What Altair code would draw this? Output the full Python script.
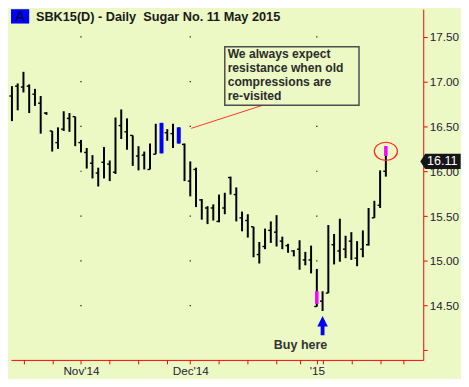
import altair as alt
import pandas as pd

# ---------------- data ----------------
# trading-day index of each daily bar (late Oct 2014 -> late Jan 2015)
bar_idx = list(range(66))
high = [16.95, 16.98, 17.11, 16.97, 16.92, 16.84, 16.66, 16.45, 16.49, 16.67,
        16.65, 16.61, 16.35, 16.26, 16.18, 16.04, 16.27, 16.12, 16.60, 16.69,
        16.59, 16.40, 16.28, 16.22, 16.31, 16.53, 16.54, 16.47, 16.53, 16.49,
        16.31, 16.11, 16.04, 15.69, 15.61, 15.63, 15.74, 15.76, 15.94, 15.82,
        15.55, 15.52, 15.38, 15.21, 15.36, 15.44, 15.51, 15.27, 15.19, 15.12,
        15.23, 15.10, 15.17, 14.91, 14.66, 15.40, 15.30, 15.47, 15.28, 15.32,
        15.22, 15.34, 15.59, 15.67, 16.01, 16.28]
low = [16.56, 16.68, 16.88, 16.65, 16.73, 16.42, 16.63, 16.22, 16.25, 16.45,
       16.44, 16.28, 16.21, 16.03, 15.92, 15.83, 15.92, 15.89, 15.97, 16.36,
       16.24, 16.06, 16.01, 16.02, 16.02, 16.19, 16.20, 16.34, 16.26, 16.31,
       15.89, 15.72, 15.60, 15.46, 15.41, 15.45, 15.43, 15.52, 15.74, 15.44,
       15.33, 15.26, 15.04, 14.97, 15.13, 15.20, 15.16, 15.13, 15.09, 15.05,
       14.90, 14.95, 14.86, 14.49, 14.44, 14.64, 14.96, 14.99, 15.03, 15.01,
       14.94, 15.04, 15.17, 15.48, 15.59, 15.94]
close = [16.84, 16.95, 16.94, 16.95, 16.86, 16.76, 16.65, 16.45, 16.32, 16.47,
         16.59, 16.61, 16.32, 16.21, 16.09, 15.98, 16.10, 16.08, 15.99, 16.51,
         16.44, 16.40, 16.17, 16.18, 16.02, 16.19, None, 16.43, 16.42, None,
         16.30, 15.89, 16.02, 15.68, 15.59, 15.59, 15.44, 15.59, 15.93, 15.74,
         15.48, 15.45, 15.38, 15.07, 15.16, 15.34, 15.32, 15.22, 15.17, 15.11,
         15.13, 15.01, 15.01, 14.49, 14.55, 14.64, 15.18, 15.11, 15.13, 15.22,
         15.03, 15.13, 15.18, 15.48, 15.62, 16.00]

# highlighted bars
blue_idx = [26, 29]
blue_hi = [16.54, 16.49]
blue_lo = [16.20, 16.31]
pink_idx = [53, 65]
pink_hi = [14.66, 16.28]
pink_lo = [14.52, 16.17]

last_price = 16.11

# axes
week_ticks = [2, 7, 12, 17, 22, 27, 31, 36, 41, 46, 50, 54, 59, 64, 68]
month_ticks = [12, 31, 53]
month_labels = ["Nov'14", "Dec'14", "'15"]
y_ticks = [14.0, 14.5, 15.0, 15.5, 16.0, 16.5, 17.0, 17.5]
dot_levels = [14.5, 15.0, 15.5, 16.0, 16.5, 17.0, 17.5]

title_text = "SBK15(D) - Daily\u00a0 Sugar No. 11 May 2015"
note_lines = ["We always expect", "resistance when old", "compressions are", "re-visited"]
buy_text = "Buy here"

# ---------------- styling ----------------
BG = "#EDF9C5"
FONT = "Liberation Sans"
W, H = 415, 353
x_dom = [-0.167, 71.5]
y_dom = [13.894, 17.809]

xs = alt.Scale(domain=x_dom, nice=False, zero=False)
ys = alt.Scale(domain=y_dom, nice=False, zero=False)

x_vals = sorted(set(week_ticks + month_ticks))
lab_expr = "".join(f'datum.value == {v} ? "{t}" : ' for v, t in zip(month_ticks, month_labels)) + '""'

x_axis = alt.Axis(values=x_vals, labelExpr=lab_expr, domainColor="#ff0000", tickColor="#ff0000",
                  domainWidth=1, tickWidth=1, tickSize=4, labelPadding=2, labelFont=FONT,
                  labelFontSize=11.8, labelColor="#222233", grid=False, labelOverlap=False,
                  labelFlush=False, title=None)
y_axis = alt.Axis(orient="right", values=y_ticks, format=".2f",
                  labelExpr="datum.value < 14.25 ? '' : datum.label",
                  domainColor="#ff0000", tickColor="#ff0000", domainWidth=1, tickWidth=1,
                  tickSize=4, labelPadding=2, labelFont=FONT, labelFontSize=11.8,
                  labelColor="#222233", grid=False, labelOverlap=False, title=None)


def X(f):
    return alt.X(f, type="quantitative", scale=xs, axis=x_axis, title=None)


def Y(f):
    return alt.Y(f, type="quantitative", scale=ys, axis=y_axis, title=None)


bars = pd.DataFrame({"i": bar_idx, "hi": high, "lo": low, "c": close})

bar_lines = alt.Chart(bars).mark_rule(color="black", strokeWidth=2, strokeCap="butt").encode(
    x=X("i"), y=Y("lo"), y2="hi")

bar_ticks = alt.Chart(bars).transform_filter("isValid(datum.c)").transform_calculate(
    il="datum.i - 0.45").mark_rule(color="black", strokeWidth=1.4).encode(
    x=X("il"), x2="i", y=Y("c"))

blue = alt.Chart(pd.DataFrame({"i": blue_idx, "hi": blue_hi, "lo": blue_lo})).mark_rule(
    color="#0000ff", strokeWidth=4, strokeCap="butt").encode(x=X("i"), y=Y("lo"), y2="hi")

pink = alt.Chart(pd.DataFrame({"i": pink_idx, "hi": pink_hi, "lo": pink_lo})).mark_rule(
    color="#ff00ff", strokeWidth=3.5, strokeCap="butt").encode(x=X("i"), y=Y("lo"), y2="hi")

dots_df = pd.DataFrame([(m, lv) for m in month_ticks for lv in dot_levels], columns=["i", "p"])
dots = alt.Chart(dots_df).mark_square(color="black", size=1.5, opacity=0.9).encode(
    x=X("i"), y=Y("p"))

# title block
title_box = alt.Chart(pd.DataFrame({"x": [-0.167], "x2": [3.0], "y": [17.809], "y2": [17.649]})).mark_rect(
    color="#0000ff").encode(x=X("x"), x2="x2", y=Y("y"), y2="y2")
title_a = alt.Chart(pd.DataFrame({"x": [1.42], "y": [17.727], "t": ["A"]})).mark_text(
    font=FONT, fontSize=14, color="#000022", align="center", baseline="middle").encode(
    x=X("x"), y=Y("y"), text="t:N")
title = alt.Chart(pd.DataFrame({"x": [4.17], "y": [17.72], "t": [title_text]})).mark_text(
    font=FONT, fontSize=12.8, fontWeight="bold", color="#1a1a1a", align="left",
    baseline="middle").encode(x=X("x"), y=Y("y"), text="t:N")

# annotation
note_box = alt.Chart(pd.DataFrame({"x": [37.0], "x2": [60.33], "y": [17.39], "y2": [16.737]})).mark_rect(
    fill=BG, stroke="#4d4d4d", strokeWidth=1.5).encode(x=X("x"), x2="x2", y=Y("y"), y2="y2")
note_df = pd.DataFrame({"x": [37.5] * 4, "y": [17.312, 17.152, 16.993, 16.84], "t": note_lines})
note_text = alt.Chart(note_df).mark_text(font=FONT, fontSize=12.2, fontWeight="bold", color="#2b2b2b",
                                         align="left", baseline="middle").encode(
    x=X("x"), y=Y("y"), text="t:N")
note_line = alt.Chart(pd.DataFrame({"x": [31.17], "x2": [44.0], "y": [16.479], "y2": [16.745]})).mark_rule(
    color="#ff3333", strokeWidth=1).encode(x=X("x"), x2="x2", y=Y("y"), y2="y2")

ellipse_path = ("M-1,0 C-1,-0.433 -0.552,-0.785 0,-0.785 C0.552,-0.785 1,-0.433 1,0 "
                "C1,0.433 0.552,0.785 0,0.785 C-0.552,0.785 -1,0.433 -1,0 Z")
ellipse = alt.Chart(pd.DataFrame({"x": [65.0], "y": [16.223]})).mark_point(
    shape=ellipse_path, size=540, filled=False, stroke="#ff2020", strokeWidth=1.2, opacity=1).encode(
    x=X("x"), y=Y("y"))

arrow_path = "M0,-1 L0.55,0.1 L0.2,0.1 L0.2,1 L-0.2,1 L-0.2,0.1 L-0.55,0.1 Z"
arrow = alt.Chart(pd.DataFrame({"x": [54.0], "y": [14.277]})).mark_point(
    shape=arrow_path, size=372, filled=True, color="#0000ff", opacity=1).encode(x=X("x"), y=Y("y"))
buy = alt.Chart(pd.DataFrame({"x": [50.17], "y": [14.064], "t": [buy_text]})).mark_text(
    font=FONT, fontSize=12.6, fontWeight="bold", color="#333333", align="center",
    baseline="middle").encode(x=X("x"), y=Y("y"), text="t:N")

tag_path = "M-1,0 L-0.76,-0.38 L1,-0.38 L1,0.38 L-0.76,0.38 Z"
tag = alt.Chart(pd.DataFrame({"x": [74.5], "y": [last_price]})).mark_point(
    shape=tag_path, size=1650, filled=True, color="#161616", opacity=1).encode(x=X("x"), y=Y("y"))
tag_text = alt.Chart(pd.DataFrame({"x": [74.8], "y": [last_price], "t": [f"{last_price:.2f}"]})).mark_text(
    font=FONT, fontSize=12.6, color="white", align="center", baseline="middle").encode(
    x=X("x"), y=Y("y"), text="t:N")

chart = alt.layer(
    dots, note_line, bar_lines, bar_ticks, blue, pink, title_box, title_a, title,
    note_box, note_text, ellipse, arrow, buy, tag, tag_text
).properties(width=W, height=H, padding=0, background=BG).configure_view(
    fill=BG, stroke="transparent")

chart.save("out.html", embed_options={"renderer": "svg", "actions": False})
